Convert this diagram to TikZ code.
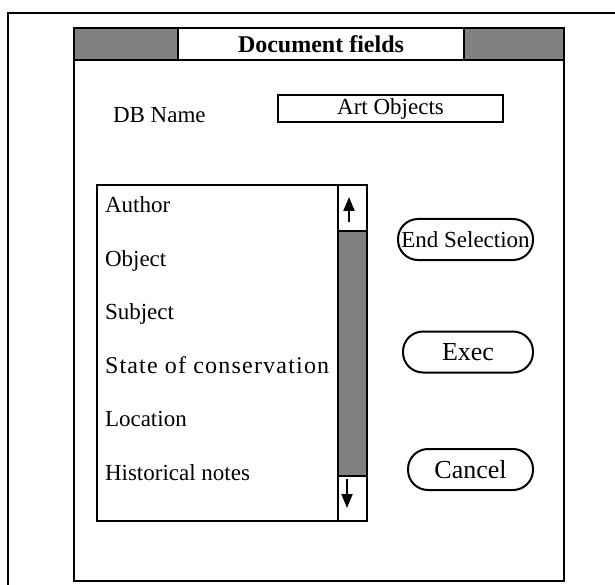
\documentclass[tikz,border=0pt]{standalone}
\usepackage{fontspec}
\setmainfont{Liberation Serif}
\usetikzlibrary{arrows.meta, positioning}

\begin{document}
\begin{tikzpicture}[x=1pt, y=-1pt,
    every node/.style={font=\fontsize{23}{27}\selectfont, inner sep=0pt, outer sep=0pt},
    frame/.style={draw, line width=2.4pt},
    box/.style={draw, line width=2.4pt, anchor=north west},
    greybox/.style={box, fill=gray},
    item/.style={anchor=base west},
    btn/.style={draw, line width=2pt, rounded corners=20pt, minimum height=41pt},
    bigbtn/.style={btn, font=\fontsize{26}{30}\selectfont},
    scrollarr/.style={line width=2pt, -{Triangle[length=14pt, width=11pt]}}]
  \useasboundingbox (0,0) rectangle (615,585);
  % outer frame, cut off at right and bottom
  \draw[frame] (8,585) |- (615,13);
  % dialog window and title bar
  \node[box, minimum width=490pt, minimum height=553pt] (win) at (74,28) {};
  \node[greybox, minimum width=104pt, minimum height=32pt] (barl) at (74,28) {};
  \node[box, fill=white, minimum width=286pt, minimum height=32pt,
        font=\fontsize{24}{28}\selectfont\bfseries] (title) at (178,28) {Document fields};
  \node[greybox, minimum width=100pt, minimum height=32pt] (barr) at (464,28) {};
  % database name
  \node[item] (dbname) at (113,123) {DB Name};
  \node[draw, line width=2pt, minimum width=225pt, minimum height=27pt] (dbval)
        at (390.5,108.5) {Art Objects\hspace{10pt}};
  % field list with scroll bar
  \node[box, minimum width=241pt, minimum height=336pt] (list) at (97,185) {};
  \node[greybox, minimum width=29pt, minimum height=336pt] (scroll) at (338,185) {};
  \node[box, fill=white, minimum width=29pt, minimum height=46pt] (upbox) at (338,185) {};
  \node[box, fill=white, minimum width=29pt, minimum height=45pt] (downbox) at (338,476) {};
  \coordinate (uptail) at (349,222);   \coordinate (uptip) at (349,197);
  \coordinate (downtail) at (347,479); \coordinate (downtip) at (347,508);
  \draw[scrollarr] (uptail) -- (uptip);
  \draw[scrollarr] (downtail) -- (downtip);
  \node[item] (author)   at (105,213)   {Author};
  \node[item] (object)   at (105,266.4) {Object};
  \node[item] (subject)  at (105,319.8) {Subject};
  \node[item, font=\fontsize{24}{28}\selectfont] (state) at (105,373.2)
        {\addfontfeatures{LetterSpace=5}State of conservation};
  \node[item] (location) at (105,426.6) {Location};
  \node[item] (notes)    at (105,480)   {Historical notes};
  % buttons
  \node[btn, minimum width=135pt] (endsel) at (465.5,239.5) {End Selection};
  \node[bigbtn, minimum width=130pt] (exec)   at (468,352)     {Exec};
  \node[bigbtn, minimum width=125pt] (cancel) at (470.5,469.5) {Cancel};
\end{tikzpicture}
\end{document}
